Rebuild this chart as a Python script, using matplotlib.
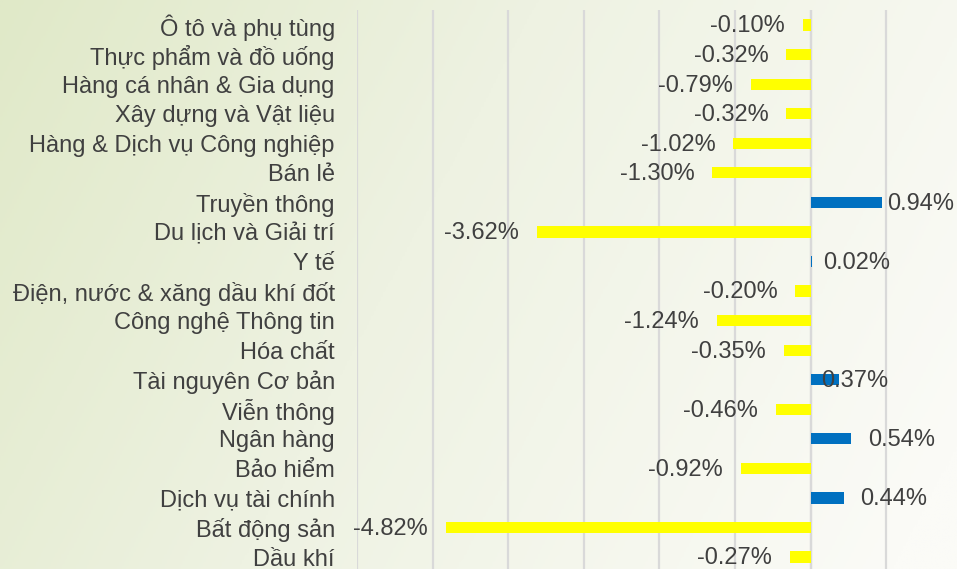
import numpy as np
import matplotlib
matplotlib.use("Agg")
import matplotlib.pyplot as plt
from matplotlib.colors import LinearSegmentedColormap

categories = [
    "Ô tô và phụ tùng", "Thực phẩm và đồ uống", "Hàng cá nhân & Gia dụng",
    "Xây dựng và Vật liệu", "Hàng & Dịch vụ Công nghiệp", "Bán lẻ",
    "Truyền thông", "Du lịch và Giải trí", "Y tế",
    "Điện, nước & xăng dầu khí đốt", "Công nghệ Thông tin", "Hóa chất",
    "Tài nguyên Cơ bản", "Viễn thông", "Ngân hàng", "Bảo hiểm",
    "Dịch vụ tài chính", "Bất động sản", "Dầu khí",
]
values = [-0.10, -0.32, -0.79, -0.32, -1.02, -1.30, 0.94, -3.62, 0.02,
          -0.20, -1.24, -0.35, 0.37, -0.46, 0.54, -0.92, 0.44, -4.82, -0.27]

# manual label nudges (pixels) for labels moved in the original
label_nudge = {"Tài nguyên Cơ bản": -34, "Y tế": -6, "Truyền thông": -11}

plt.rcParams['font.family'] = ['Liberation Sans', 'DejaVu Sans']

W, H = 957, 569
fig = plt.figure(figsize=(W / 100, H / 100), dpi=100)

# background gradient
bg = fig.add_axes([0, 0, 1, 1], zorder=-10)
gx = np.linspace(0, 1, 400)
gy = np.linspace(0, 1, 240)
X, Y = np.meshgrid(gx, gy)
t = np.clip(0.8 * X + 0.25 * Y, 0, 1)
cmap = LinearSegmentedColormap.from_list(
    "bg", [(0.0, "#e0e9c8"), (0.45, "#eef2e2"), (1.0, "#fbfbf7")])
bg.imshow(t, cmap=cmap, aspect="auto", extent=[0, 1, 0, 1], origin="upper",
          vmin=0, vmax=1)
bg.axis("off")

ax = fig.add_axes([357 / W, -0.005, 600 / W, 0.987])
ax.patch.set_alpha(0)
y = np.arange(len(categories))
colors = ["#0070C0" if v > 0 else "#FFFF00" for v in values]
ax.barh(y, values, height=0.38, color=colors, zorder=3)

xmax = -6 + (W - 357) / 75.6
ax.set_xlim(-6, xmax)
ax.set_ylim(len(categories) - 0.5, -0.5)
ax.set_xticks(np.arange(-6, 2, 1))
ax.xaxis.grid(True, color="#d9d9d9", linewidth=1.6, zorder=0)
ax.axvline(0, color="#d9d9d9", linewidth=1.6, zorder=1)
ax.tick_params(axis="x", bottom=False, labelbottom=False)
ax.tick_params(axis="y", left=False, pad=12.5)
ax.set_yticks(y)
ax.set_yticklabels(categories, fontsize=17, color="#404040")
for s in ax.spines.values():
    s.set_visible(False)

for i, (c, v) in enumerate(zip(categories, values)):
    off = 12 if v > 0 else -13
    off += label_nudge.get(c, 0) * 0.72
    ax.annotate(f"{v:.2f}%", xy=(v, i), xytext=(off, -1),
                textcoords="offset points",
                ha="left" if v > 0 else "right", va="center",
                fontsize=17, color="#404040", zorder=5)

fig.savefig("out.png", dpi=100)
